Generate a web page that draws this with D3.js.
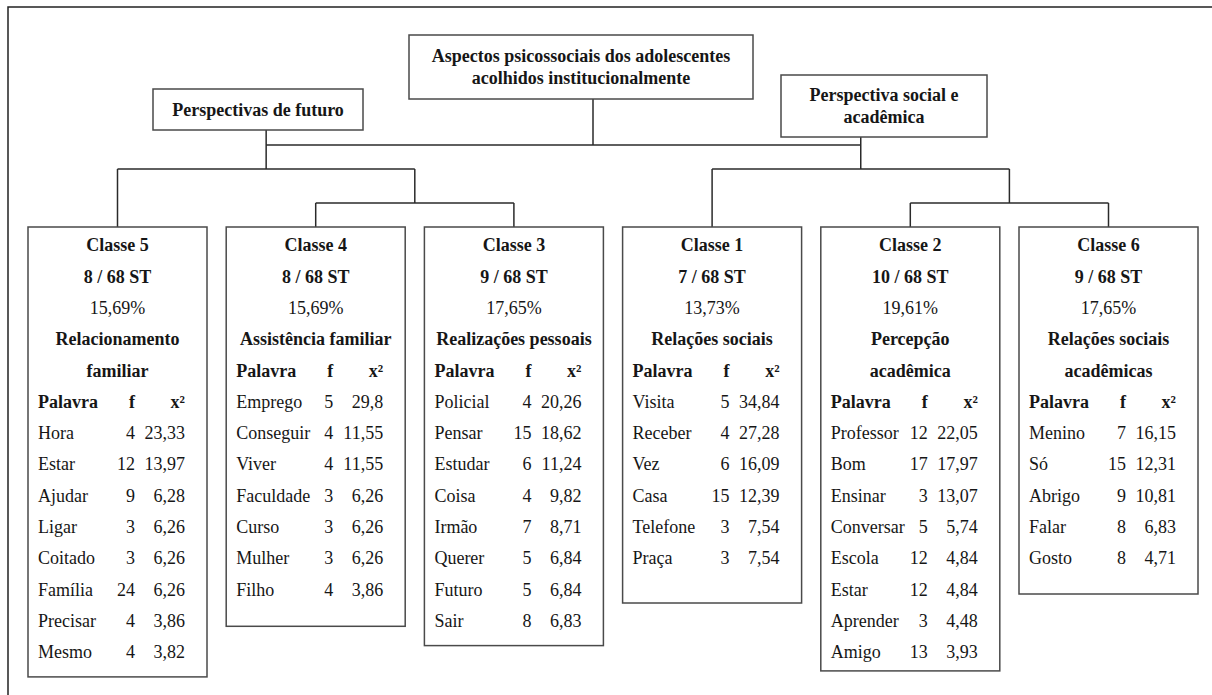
<!DOCTYPE html>
<html>
<head>
<meta charset="utf-8">
<script src="https://cdn.jsdelivr.net/npm/d3@7"></script>
<style>
  body { margin: 0; background: #fff; }
  svg text { font-family: "Liberation Serif", "Times New Roman", serif; fill: #161616; }
</style>
</head>
<body>
<div id="vis-dendro"></div>
<script>
// Class data (order left to right as drawn)
const classNames = ["Classe 5", "Classe 4", "Classe 3", "Classe 1", "Classe 2", "Classe 6"];
const stCounts = ["8 / 68 ST", "8 / 68 ST", "9 / 68 ST", "7 / 68 ST", "10 / 68 ST", "9 / 68 ST"];
const percents = ["15,69%", "15,69%", "17,65%", "13,73%", "19,61%", "17,65%"];
const themes = [
  ["Relacionamento", "familiar"],
  ["Assistência familiar"],
  ["Realizações pessoais"],
  ["Relações sociais"],
  ["Percepção", "acadêmica"],
  ["Relações sociais", "acadêmicas"]
];
const words = [
  ["Hora", "Estar", "Ajudar", "Ligar", "Coitado", "Família", "Precisar", "Mesmo"],
  ["Emprego", "Conseguir", "Viver", "Faculdade", "Curso", "Mulher", "Filho"],
  ["Policial", "Pensar", "Estudar", "Coisa", "Irmão", "Querer", "Futuro", "Sair"],
  ["Visita", "Receber", "Vez", "Casa", "Telefone", "Praça"],
  ["Professor", "Bom", "Ensinar", "Conversar", "Escola", "Estar", "Aprender", "Amigo"],
  ["Menino", "Só", "Abrigo", "Falar", "Gosto"]
];
const freqs = [
  [4, 12, 9, 3, 3, 24, 4, 4],
  [5, 4, 4, 3, 3, 3, 4],
  [4, 15, 6, 4, 7, 5, 5, 8],
  [5, 4, 6, 15, 3, 3],
  [12, 17, 3, 5, 12, 12, 3, 13],
  [7, 15, 9, 8, 8]
];
const chi2 = [
  ["23,33", "13,97", "6,28", "6,26", "6,26", "6,26", "3,86", "3,82"],
  ["29,8", "11,55", "11,55", "6,26", "6,26", "6,26", "3,86"],
  ["20,26", "18,62", "11,24", "9,82", "8,71", "6,84", "6,84", "6,83"],
  ["34,84", "27,28", "16,09", "12,39", "7,54", "7,54"],
  ["22,05", "17,97", "13,07", "5,74", "4,84", "4,84", "4,48", "3,93"],
  ["16,15", "12,31", "10,81", "6,83", "4,71"]
];
const rootLabel = ["Aspectos psicossociais dos adolescentes", "acolhidos institucionalmente"];
const groupLabels = [["Perspectivas de futuro"], ["Perspectiva social e", "acadêmica"]];
// tree: root -> [C5, (C4, C3)] and [C1, (C2, C6)]
const treeData = {
  name: "root", children: [
    { name: "g0", children: [{ name: "Classe 5" }, { name: "s0", children: [{ name: "Classe 4" }, { name: "Classe 3" }] }] },
    { name: "g1", children: [{ name: "Classe 1" }, { name: "s1", children: [{ name: "Classe 2" }, { name: "Classe 6" }] }] }
  ]
};

(function(){
  const width = 1212, height = 695;
  const boxW = 179;
  const yRoot = 145, yGroup = 169, ySub = 203, yBox = 227;
  const row0 = 245, rowH = 31.3;
  const bottomPad = [25, 37, 25, 45, 19, 36];
  const lineCol = "#2a2a2a", boxCol = "#4a4a4a";

  const x = d3.scalePoint().domain(classNames).range([117.5, 1108.5]);

  const svg = d3.select("#vis-dendro").append("svg")
    .attr("width", width).attr("height", height);

  // outer frame
  svg.append("rect")
    .attr("x", 8).attr("y", 7).attr("width", width + 20).attr("height", height + 20)
    .attr("fill", "none").attr("stroke", "#222").attr("stroke-width", 1.5);

  // hierarchy: leaf x from scale, parents at midpoint
  const root = d3.hierarchy(treeData);
  root.eachAfter(n => {
    if (!n.children) n.x = x(n.data.name);
    else n.x = d3.mean(n.children, c => c.x);
  });
  const levelY = { 0: yRoot, 1: yGroup, 2: ySub };

  // elbow connectors
  const g = svg.append("g").attr("fill", "none").attr("stroke", lineCol).attr("stroke-width", 1.5);
  root.descendants().filter(n => n.children && n.depth > 0).forEach(n => {
    const y0 = levelY[n.depth];
    g.append("line").attr("x1", n.children[0].x).attr("x2", n.children[1].x)
      .attr("y1", y0).attr("y2", y0);
    n.children.forEach(c => {
      const y1 = c.children ? levelY[c.depth] : yBox;
      g.append("line").attr("x1", c.x).attr("x2", c.x).attr("y1", y0).attr("y2", y1);
    });
  });
  // top level joins the two groups
  const groups = root.children;
  g.append("line").attr("x1", groups[0].x).attr("x2", groups[1].x).attr("y1", yRoot).attr("y2", yRoot);

  // header boxes
  function headerBox(cx, y, w, h, lines, linkX, linkY2) {
    if (linkX != null) {
      svg.append("line").attr("x1", linkX).attr("x2", linkX).attr("y1", y + h).attr("y2", linkY2)
        .attr("stroke", lineCol).attr("stroke-width", 1.5);
    }
    svg.append("rect").attr("x", cx - w / 2).attr("y", y).attr("width", w).attr("height", h)
      .attr("fill", "#fff").attr("stroke", boxCol).attr("stroke-width", 1.5);
    const t = svg.append("text").attr("text-anchor", "middle")
      .attr("font-size", 18).attr("font-weight", "bold");
    const cy = y + h / 2 - (lines.length - 1) * 11;
    lines.forEach((l, i) => t.append("tspan").attr("x", cx).attr("y", cy + i * 22).attr("dy", "0.35em").text(l));
  }
  headerBox(581, 35, 344, 64, rootLabel, 593, yRoot);
  headerBox(258, 89, 210, 41, groupLabels[0], groups[0].x, yGroup);
  headerBox(884, 75, 206, 62, groupLabels[1], groups[1].x, yGroup);

  // class boxes
  classNames.forEach((name, i) => {
    const cx = x(name), left = cx - boxW / 2;
    const rows = [];
    rows.push({ t: name, b: true });
    rows.push({ t: stCounts[i], b: true });
    rows.push({ t: percents[i], b: false });
    themes[i].forEach(t => rows.push({ t: t, b: true }));
    rows.push({ head: true });
    words[i].forEach((w, j) => rows.push({ w: w, f: freqs[i][j], c: chi2[i][j] }));
    const lastY = row0 + (rows.length - 1) * rowH;

    svg.append("rect").attr("x", left).attr("y", yBox).attr("width", boxW)
      .attr("height", lastY + bottomPad[i] - yBox)
      .attr("fill", "#fff").attr("stroke", boxCol).attr("stroke-width", 1.5);

    const bg = svg.append("g").attr("font-size", 18);
    rows.forEach((r, k) => {
      const y = row0 + k * rowH;
      if (r.t != null) {
        bg.append("text").attr("x", cx).attr("y", y).attr("dy", "0.35em")
          .attr("text-anchor", "middle").attr("font-weight", r.b ? "bold" : null).text(r.t);
      } else if (r.head) {
        bg.append("text").attr("x", left + 10).attr("y", y).attr("dy", "0.35em").attr("font-weight", "bold").text("Palavra");
        bg.append("text").attr("x", left + 107).attr("y", y).attr("dy", "0.35em").attr("text-anchor", "end").attr("font-weight", "bold").text("f");
        bg.append("text").attr("x", left + 157).attr("y", y).attr("dy", "0.35em").attr("text-anchor", "end").attr("font-weight", "bold").text("x²");
      } else {
        bg.append("text").attr("x", left + 10).attr("y", y).attr("dy", "0.35em").text(r.w);
        bg.append("text").attr("x", left + 107).attr("y", y).attr("dy", "0.35em").attr("text-anchor", "end").text(r.f);
        bg.append("text").attr("x", left + 157).attr("y", y).attr("dy", "0.35em").attr("text-anchor", "end").text(r.c);
      }
    });
  });
})();
</script>
</body>
</html>
